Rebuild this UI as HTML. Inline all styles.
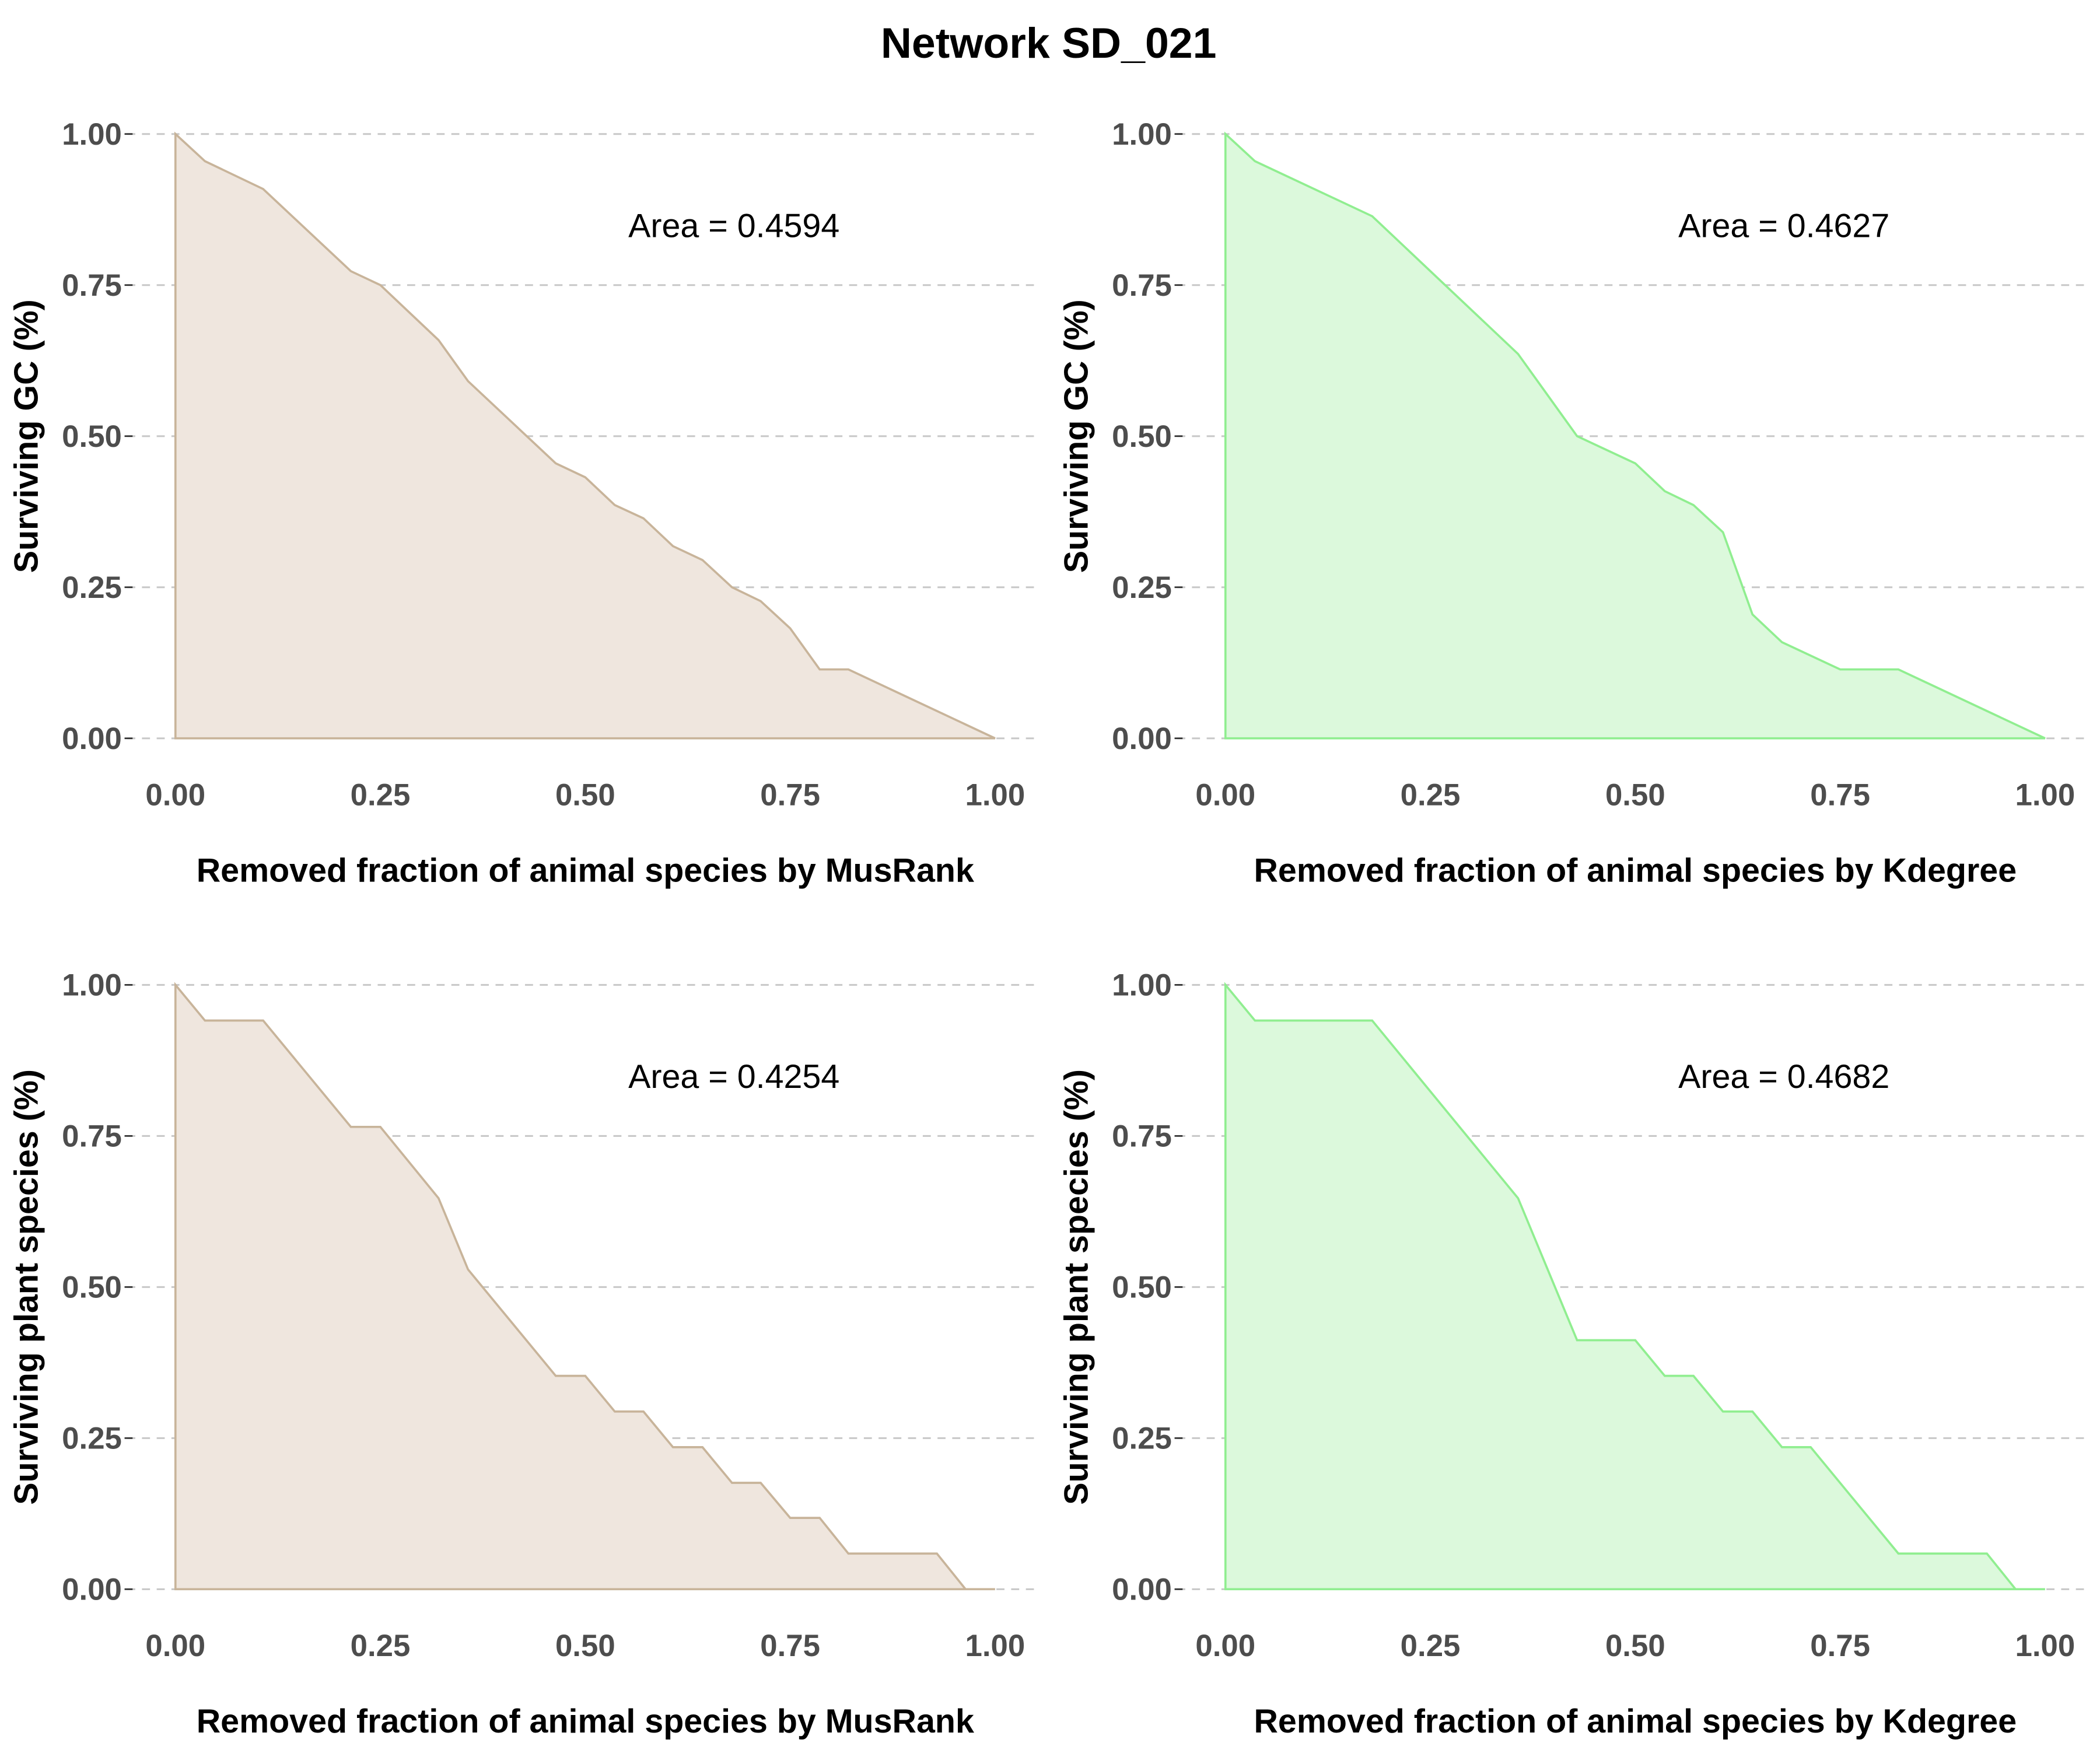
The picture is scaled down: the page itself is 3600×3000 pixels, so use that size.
<!DOCTYPE html>
<html><head><meta charset="utf-8"><style>
html,body{margin:0;padding:0;background:#fff;}
svg{display:block;}
text{font-family:"Liberation Sans",Arial,sans-serif;}
</style></head><body>
<svg id="chart" width="3600" height="3000" viewBox="0 0 1568 1306" preserveAspectRatio="none" xmlns="http://www.w3.org/2000/svg">
<rect width="1568" height="1306" fill="#fff"/>
<text x="783" y="43" text-anchor="middle" font-size="32" font-weight="bold">Network SD_021</text>
</svg>
<script>
const xTicks=[0,0.25,0.5,0.75,1];
const yTicks=[0,0.25,0.5,0.75,1];
const tickLabels=["0.00","0.25","0.50","0.75","1.00"];
const p1x=[0,0.036,0.107,0.214,0.25,0.321,0.357,0.464,0.5,0.536,0.571,0.607,0.643,0.679,0.714,0.75,0.786,0.821,1];
const p1y=[1,0.955,0.909,0.773,0.75,0.659,0.591,0.455,0.432,0.386,0.364,0.318,0.295,0.25,0.227,0.182,0.114,0.114,0];
const p2x=[0,0.036,0.179,0.357,0.429,0.5,0.536,0.571,0.607,0.643,0.679,0.75,0.821,1];
const p2y=[1,0.955,0.864,0.636,0.5,0.455,0.409,0.386,0.341,0.205,0.159,0.114,0.114,0];
const p3x=[0,0.036,0.107,0.214,0.25,0.321,0.357,0.464,0.5,0.536,0.571,0.607,0.643,0.679,0.714,0.75,0.786,0.821,0.929,0.964,1];
const p3y=[1,0.941,0.941,0.765,0.765,0.647,0.529,0.353,0.353,0.294,0.294,0.235,0.235,0.176,0.176,0.118,0.118,0.059,0.059,0,0];
const p4x=[0,0.036,0.179,0.357,0.429,0.5,0.536,0.571,0.607,0.643,0.679,0.714,0.821,0.929,0.964,1];
const p4y=[1,0.941,0.941,0.647,0.412,0.412,0.353,0.353,0.294,0.294,0.235,0.235,0.059,0.059,0,0];
const areas=["Area = 0.4594","Area = 0.4627","Area = 0.4254","Area = 0.4682"];
const xTitles=["Removed fraction of animal species by MusRank","Removed fraction of animal species by Kdegree","Removed fraction of animal species by MusRank","Removed fraction of animal species by Kdegree"];
const yTitles=["Surviving GC (%)","Surviving GC (%)","Surviving plant species (%)","Surviving plant species (%)"];

const svg=document.getElementById('chart');
const NS='http://www.w3.org/2000/svg';
function mk(tag,attrs,parent){const e=document.createElementNS(NS,tag);for(const k in attrs)e.setAttribute(k,attrs[k]);(parent||svg).appendChild(e);return e;}
const panels=[
 {x0:131,top:100,xs:p1x,ys:p1y,fill:'#efe6de',stroke:'#c8b49a',name:'musrank-gc'},
 {x0:915,top:100,xs:p2x,ys:p2y,fill:'#dcf9dc',stroke:'#90ee90',name:'kdegree-gc'},
 {x0:131,top:735,xs:p3x,ys:p3y,fill:'#efe6de',stroke:'#c8b49a',name:'musrank-plants'},
 {x0:915,top:735,xs:p4x,ys:p4y,fill:'#dcf9dc',stroke:'#90ee90',name:'kdegree-plants'}];
const W=612,H=451;
panels.forEach((p,i)=>{
 const g=mk('g',{});
 
 
 const sx=v=>p.x0+v*W, sy=v=>p.top+(1-v)*H;
 yTicks.forEach((t,j)=>{
  const l=mk('line',{x1:p.x0-36,x2:p.x0+W+32,y1:sy(t),y2:sy(t),stroke:'#c8c8c8','stroke-width':1.3,'stroke-dasharray':'6,5'},g);
  
  
  mk('line',{x1:p.x0-38,x2:p.x0-32,y1:sy(t),y2:sy(t),stroke:'#333','stroke-width':1.2},g);
  const tx=mk('text',{x:p.x0-40,y:sy(t)+8,'text-anchor':'end','font-size':23,'font-weight':'bold',fill:'#4d4d4d'},g);
  tx.textContent=tickLabels[j];
  
  
 });
 xTicks.forEach((t,j)=>{
  const tx=mk('text',{x:sx(t),y:p.top+H+50,'text-anchor':'middle','font-size':23,'font-weight':'bold',fill:'#4d4d4d'},g);
  tx.textContent=tickLabels[j];
  
  
 });
 let d='M'+sx(p.xs[0])+','+sy(0);
 p.xs.forEach((x,k)=>{d+=' L'+sx(x)+','+sy(p.ys[k]);});
 d+=' L'+sx(p.xs[p.xs.length-1])+','+sy(0)+' Z';
 const a=mk('path',{d:d,fill:p.fill,stroke:p.stroke,'stroke-width':1.6},g);
 
 
 const at=mk('text',{x:p.x0+417,y:p.top+77,'text-anchor':'middle','font-size':25},g);
 at.textContent=areas[i];
 
 
 const xt=mk('text',{x:p.x0+306,y:p.top+H+107,'text-anchor':'middle','font-size':25,'font-weight':'bold'},g);
 xt.textContent=xTitles[i];
 
 
 const cy=p.top+H/2, cx=p.x0-103;
 const yt=mk('text',{x:cx,y:cy,'text-anchor':'middle','font-size':25,'font-weight':'bold',transform:'rotate(-90 '+cx+' '+cy+')'},g);
 yt.textContent=yTitles[i];
 
 
});
</script>
</body></html>
